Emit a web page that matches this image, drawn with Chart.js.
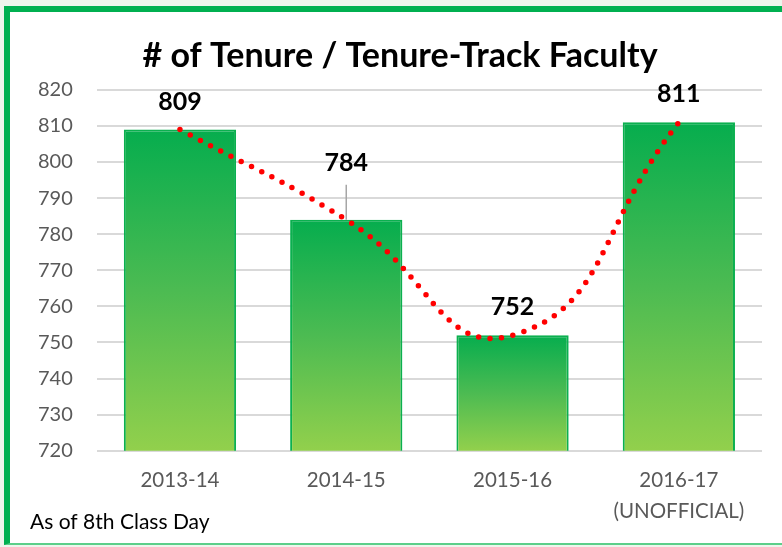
<!DOCTYPE html>
<html>
<head>
<meta charset="utf-8">
<script src="https://cdn.jsdelivr.net/npm/chart.js@4.4.1/dist/chart.umd.min.js"></script>
<style>
  html, body { margin: 0; padding: 0; }
  body { width: 782px; height: 547px; overflow: hidden; position: relative; background: #eef5ec; }
  #frame { position: absolute; left: 4px; top: 6px; width: 800px; height: 531px;
           background: #ffffff; border-left: 6px solid #00B050; border-top: 6px solid #00B050;
           border-bottom: 2px solid #5ccf8a; }
  #wrap { position: absolute; left: 0; top: 0; width: 782px; height: 547px; }
  canvas { display: block; }
</style>
</head>
<body>
<div id="frame"></div>
<div id="wrap"><canvas id="c" width="782" height="547"></canvas></div>
<script>
// ---- data ----
const categories = ['2013-14', '2014-15', '2015-16', ['2016-17', '(UNOFFICIAL)']];
const facultyCounts = [809, 784, 752, 811];
const yAxisMin = 720;
const yAxisMax = 820;
const yAxisStep = 10;
const chartTitle = '# of Tenure / Tenure-Track Faculty';
const footnote = 'As of 8th Class Day';

const FONT = 'Lato';

function barGradient(ctx) {
  const chart = ctx.chart;
  const area = chart.chartArea;
  if (!area || ctx.type !== 'data') return '#4cbb5a';
  const ys = chart.scales.y;
  const top = ys.getPixelForValue(ctx.raw);
  const bottom = area.bottom;
  const g = chart.ctx.createLinearGradient(0, top, 0, bottom);
  g.addColorStop(0, '#06AD4E');
  g.addColorStop(0.5, '#4cbb52');
  g.addColorStop(1, '#92D04C');
  return g;
}

const labelPlugin = {
  id: 'valueLabels',
  afterDatasetsDraw(chart, args, opts) {
    const ctx = chart.ctx;
    const meta = chart.getDatasetMeta(0);
    ctx.save();
    ctx.font = 'bold 25px ' + FONT;
    ctx.fillStyle = '#000000';
    ctx.textAlign = 'center';
    ctx.textBaseline = 'middle';
    meta.data.forEach((bar, i) => {
      const off = opts.offsets[i];
      const ty = bar.y - off;
      ctx.fillText(String(facultyCounts[i]), bar.x, ty);
      if (off > 40) {
        ctx.strokeStyle = '#a6a6a6';
        ctx.lineWidth = 1.5;
        ctx.beginPath();
        ctx.moveTo(bar.x, ty + 22);
        ctx.lineTo(bar.x, bar.y);
        ctx.stroke();
      }
    });
    ctx.restore();
  },
  afterDraw(chart) {
    const ctx = chart.ctx;
    ctx.save();
    ctx.font = '21px ' + FONT;
    ctx.fillStyle = '#000000';
    ctx.textAlign = 'left';
    ctx.textBaseline = 'middle';
    ctx.fillText(footnote, 30, 522);
    ctx.restore();
  }
};

new Chart(document.getElementById('c'), {
  type: 'bar',
  data: {
    labels: categories,
    datasets: [
      {
        type: 'line',
        data: facultyCounts,
        borderColor: '#FF0000',
        borderWidth: 5.5,
        borderDash: [0, 11.5],
        borderCapStyle: 'round',
        pointRadius: 0,
        tension: 0.5,
        fill: false,
        order: 0
      },
      {
        type: 'bar',
        data: facultyCounts,
        backgroundColor: barGradient,
        borderColor: '#0BB04F',
        borderWidth: 2,
        categoryPercentage: 1,
        barPercentage: 0.675,
        order: 1
      }
    ]
  },
  options: {
    responsive: false,
    animation: false,
    devicePixelRatio: 1,
    layout: { padding: { left: 38, right: 20, top: 0, bottom: 6 } },
    plugins: {
      legend: { display: false },
      tooltip: { enabled: false },
      title: {
        display: true,
        text: chartTitle,
        color: '#000000',
        font: { family: FONT, size: 34, weight: 'bold', lineHeight: 1.2 },
        padding: { top: 36, bottom: 13 }
      },
      valueLabels: { offsets: [28, 57, 28, 28] }
    },
    scales: {
      x: {
        grid: { display: false, drawTicks: false },
        border: { display: false },
        ticks: {
          color: '#595959',
          padding: 15,
          font: { family: FONT, size: 20.5, lineHeight: 1.47 }
        }
      },
      y: {
        min: yAxisMin,
        max: yAxisMax,
        grid: { color: '#d9d9d9', lineWidth: 2, drawTicks: false },
        border: { display: false },
        afterFit(scale) { scale.width = scale.width - 24; },
        ticks: {
          stepSize: yAxisStep,
          color: '#595959',
          padding: 24,
          font: { family: FONT, size: 20 }
        }
      }
    }
  },
  plugins: [labelPlugin]
});
</script>
</body>
</html>
